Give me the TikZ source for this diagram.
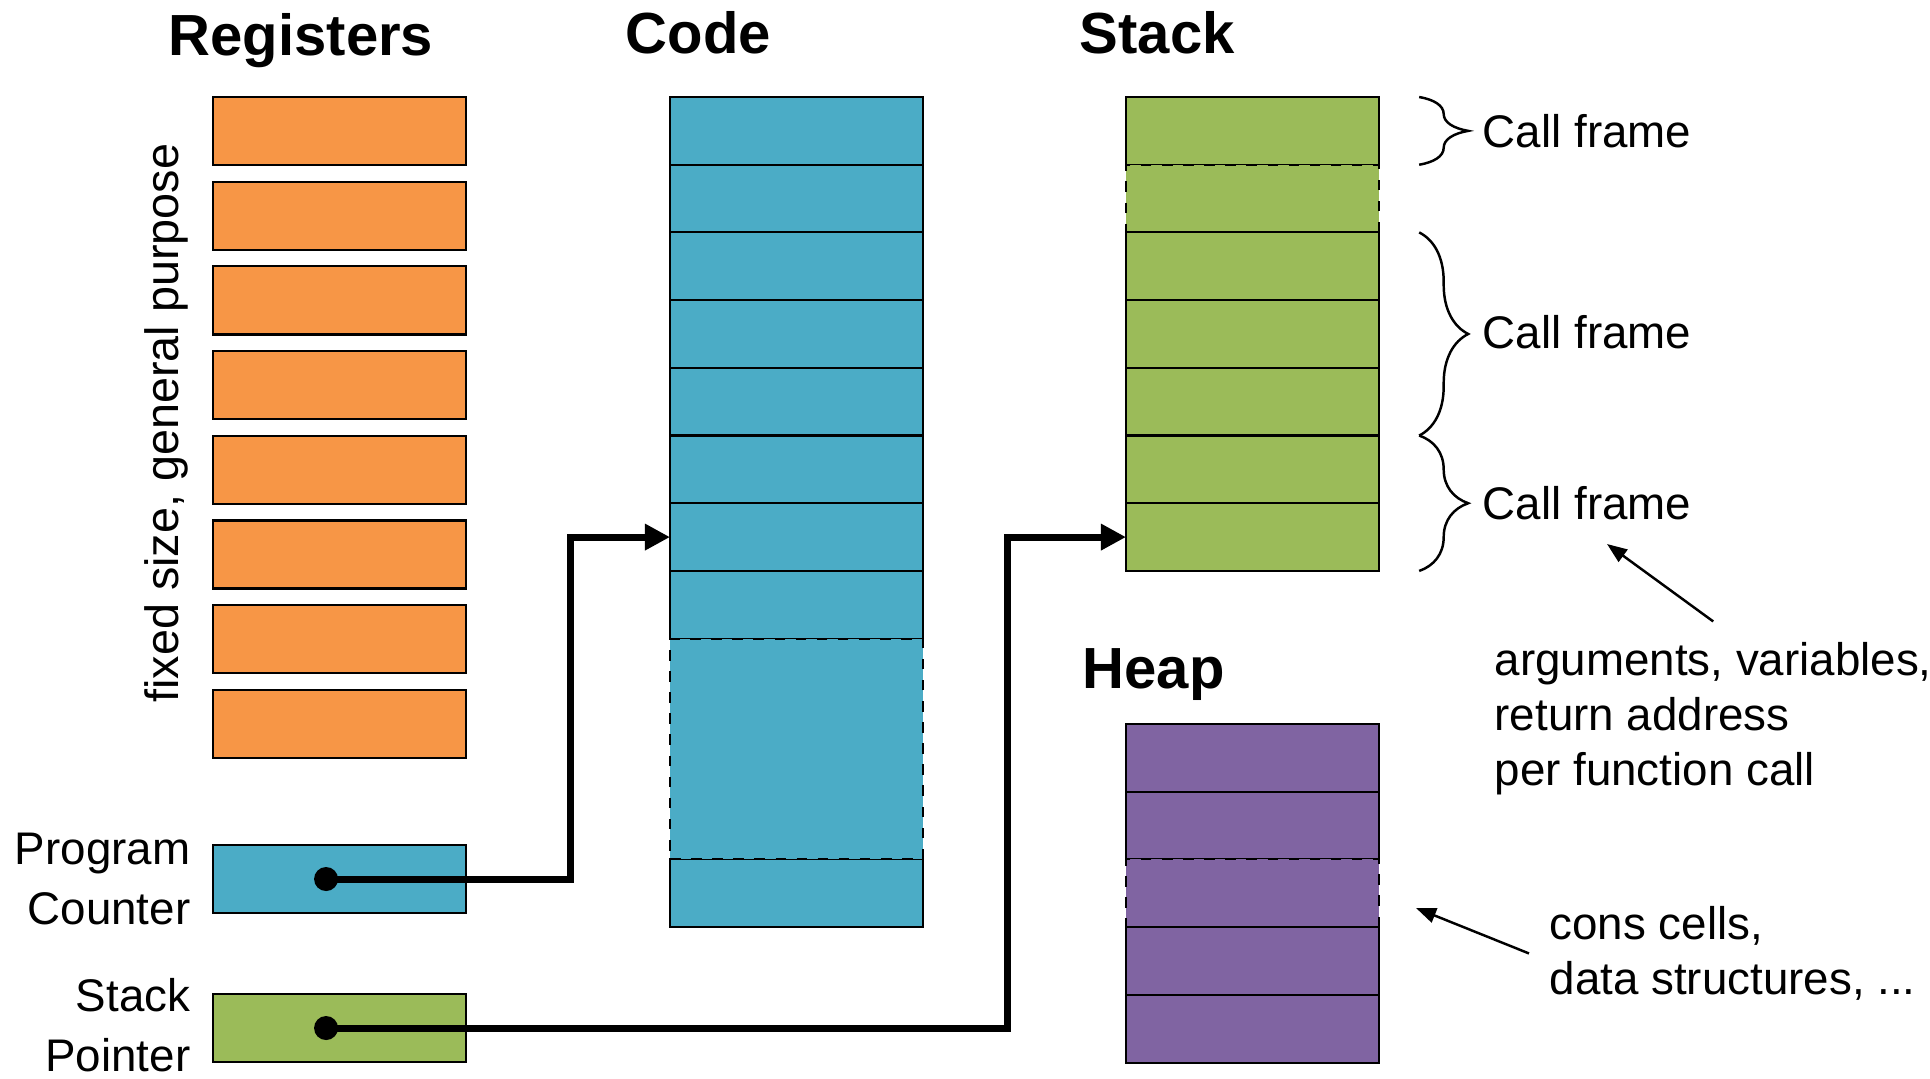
\documentclass[tikz,border=0pt]{standalone}
\usepackage{fontspec}
\setmainfont{Liberation Sans}
\usetikzlibrary{arrows.meta, positioning, decorations.pathreplacing}
\definecolor{regorange}{HTML}{F79646}
\definecolor{codeblue}{HTML}{4BACC6}
\definecolor{stackgreen}{HTML}{9BBB59}
\definecolor{heappurple}{HTML}{8064A2}

\tikzset{
  cell/.style={draw=black, line width=0.6pt, minimum width=2.53cm, minimum height=0.677cm,
    inner sep=0pt, outer sep=0pt, anchor=north west},
  gapcell/.style={cell, dashed},
  coltitle/.style={font=\fontsize{16.5}{20}\selectfont\bfseries, anchor=base west, inner sep=0pt},
  lbl/.style={font=\fontsize{13}{15.6}\selectfont, inner sep=0pt},
  pointer/.style={line width=2pt, -{Triangle[length=0.25cm,width=0.25cm]}},
  note/.style={line width=0.7pt, -{Triangle[length=0.2cm,width=0.15cm]}},
  framebrace/.style={decorate, decoration={brace, amplitude=0.49cm}, line width=0.7pt}
}

\begin{document}
\begin{tikzpicture}[x=0.01cm, y=-0.01cm]
\useasboundingbox (0,0) rectangle (1930,1078);

% column titles
\node[coltitle] (regtitle) at (168,55) {Registers};
\node[coltitle] (codetitle) at (625,53) {Code};
\node[coltitle] (stktitle) at (1079,53) {Stack};
\node[coltitle] (heaptitle) at (1082,688) {Heap};

% registers
\foreach \i in {1,...,8}
  \node[cell, fill=regorange, minimum height=0.68cm] (reg\i) at (213,{97+84.7*(\i-1)}) {};
\node[lbl, rotate=90, font=\fontsize{13.3}{16}\selectfont] (regnote) at (166,423) {fixed size, general purpose};

\node[cell, fill=codeblue, minimum height=0.68cm] (pc) at (213,845) {};
\node[cell, fill=stackgreen, minimum height=0.68cm] (sp) at (213,994) {};
\node[lbl, align=right, anchor=east, font=\fontsize{13}{17}\selectfont] (pclbl) at (191,879) {Program\\Counter};
\node[lbl, align=right, anchor=east, font=\fontsize{13}{17}\selectfont] (splbl) at (191,1025) {Stack\\Pointer};

% code
\foreach \i in {1,...,8}
  \node[cell, fill=codeblue] (code\i) at (670,{97+67.7*(\i-1)}) {};
\node[cell, fill=codeblue] (code10) at (670,859.2) {};
\node[gapcell, fill=codeblue, minimum height=2.206cm] (code9) at (670,638.6) {};

% stack
\foreach \s [count=\i] in {cell,gapcell,cell,cell,cell,cell,cell}
  \node[\s, fill=stackgreen] (stk\i) at (1126,{97+67.7*(\i-1)}) {};

% heap
\foreach \s [count=\i] in {cell,cell,gapcell,cell,cell}
  \node[\s, fill=heappurple] (heap\i) at (1126,{724+67.7*(\i-1)}) {};

% call frames
\draw[framebrace] ([xshift=0.4cm]stk1.north east) -- ([xshift=0.4cm]stk1.south east);
\draw[framebrace] ([xshift=0.4cm]stk3.north east) -- ([xshift=0.4cm]stk5.south east);
\draw[framebrace] ([xshift=0.4cm]stk6.north east) -- ([xshift=0.4cm]stk7.south east);
\node[lbl, anchor=west] (cf1) at ([xshift=1.03cm]stk1.east) {Call frame};
\node[lbl, anchor=west] (cf2) at ([xshift=1.03cm,yshift=0.02cm]stk4.east) {Call frame};
\node[lbl, anchor=west] (cf3) at ([xshift=1.03cm]stk6.south east) {Call frame};

% pointers
\coordinate (pcdot) at ([xshift=-0.135cm]pc.center);
\coordinate (spdot) at ([xshift=-0.135cm]sp.center);
\fill (pcdot) circle (0.12cm);
\fill (spdot) circle (0.12cm);
\draw[pointer] (pcdot) -| ([xshift=-0.99cm]code7.west) -- (code7.west);
\draw[pointer] (spdot) -| ([xshift=-1.18cm]stk7.west) -- (stk7.west);

% notes
\node[lbl, align=left, anchor=base west] (argnote) at (1494,785) {arguments, variables,\\return address\\per function call};
\node[lbl, align=left, anchor=base west] (consnote) at (1549,994.5) {cons cells,\\data structures, ...};
\coordinate (argtip) at (1607,544);
\coordinate (constip) at (1416,908);
\draw[note] ([yshift=0.2cm]argnote.north) -- (argtip);
\draw[note] ([xshift=-0.2cm]consnote.west) -- (constip);
\end{tikzpicture}
\end{document}
